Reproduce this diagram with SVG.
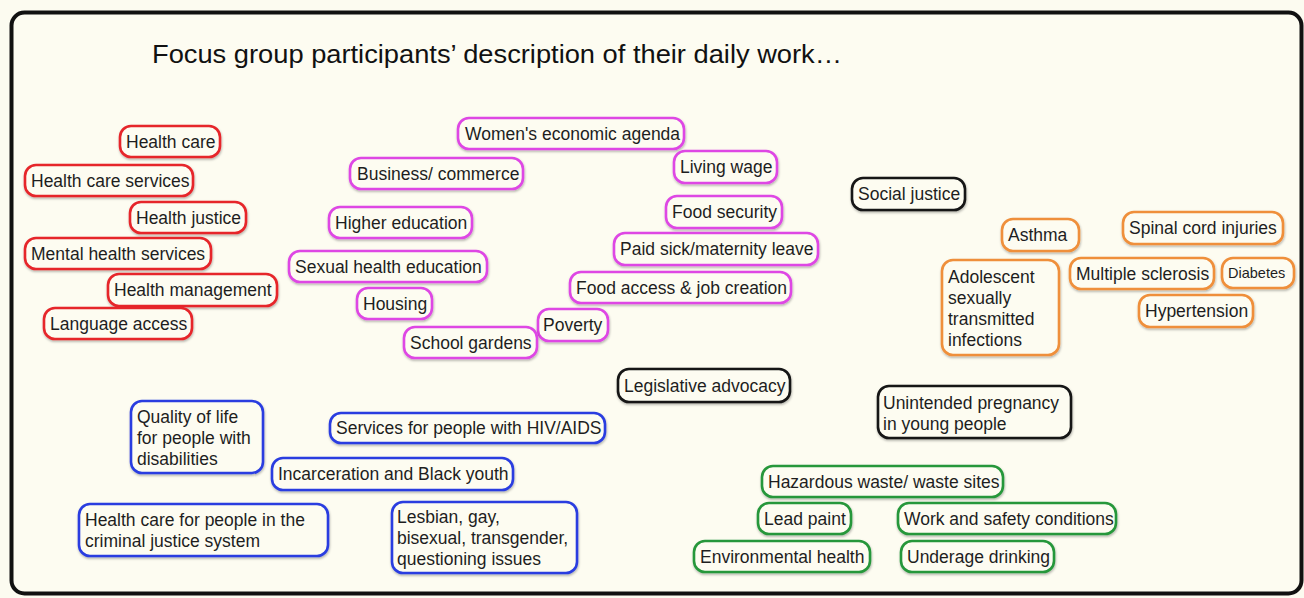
<svg xmlns="http://www.w3.org/2000/svg" width="1304" height="598" viewBox="0 0 1304 598">
<defs>
<filter id="sh" x="-5%" y="-10%" width="110%" height="130%">
<feDropShadow dx="0.5" dy="1.5" stdDeviation="0.8" flood-color="#000" flood-opacity="0.3"/>
</filter>
<style>
.t{font-family:"Liberation Sans",Arial,Helvetica,sans-serif;font-size:17.5px;fill:#1e1e1e}
.b{fill:#fdfcf1;stroke-width:2.6;filter:url(#sh)}
.r .b{stroke:#e6252b}
.m .b{stroke:#de47e4}
.k .b{stroke:#141414}
.o .b{stroke:#ef8f3a}
.u .b{stroke:#2b3ee0}
.g .b{stroke:#27973a}
</style>
</defs>
<rect x="0" y="0" width="1304" height="598" fill="#fcfbf0"/>
<rect x="11.5" y="12.5" width="1290" height="581" rx="13" fill="#fdfcf1" stroke="#111" stroke-width="4"/>
<text x="152" y="63" style="font-family:'Liberation Sans',Arial,sans-serif;font-size:26px;fill:#111" textLength="690" lengthAdjust="spacingAndGlyphs">Focus group participants’ description of their daily work…</text>
<g id="connectors"></g>

<g class="r">
<g id="n-health-care"><rect class="b" x="120" y="126" width="100" height="31" rx="11"/><text class="t" x="126" y="148">Health care</text></g>
<g id="n-health-care-services"><rect class="b" x="25" y="165" width="168" height="31" rx="11"/><text class="t" x="31" y="187">Health care services</text></g>
<g id="n-health-justice"><rect class="b" x="130" y="202" width="116" height="31" rx="11"/><text class="t" x="136" y="224">Health justice</text></g>
<g id="n-mental-health"><rect class="b" x="25" y="238" width="186" height="31" rx="11"/><text class="t" x="31" y="260">Mental health services</text></g>
<g id="n-health-management"><rect class="b" x="108" y="274" width="169" height="32" rx="11"/><text class="t" x="114" y="296">Health management</text></g>
<g id="n-language-access"><rect class="b" x="44" y="308" width="148" height="31" rx="11"/><text class="t" x="50" y="330">Language access</text></g>
</g>

<g class="m">
<g id="n-womens-agenda"><rect class="b" x="458" y="118" width="226" height="31" rx="11"/><text class="t" x="465" y="140">Women's economic agenda</text></g>
<g id="n-business"><rect class="b" x="350" y="158" width="173" height="31" rx="11"/><text class="t" x="357" y="180">Business/ commerce</text></g>
<g id="n-living-wage"><rect class="b" x="674" y="151" width="103" height="32" rx="11"/><text class="t" x="680" y="173">Living wage</text></g>
<g id="n-higher-education"><rect class="b" x="329" y="207" width="143" height="31" rx="11"/><text class="t" x="335" y="229">Higher education</text></g>
<g id="n-food-security"><rect class="b" x="666" y="196" width="116" height="32" rx="11"/><text class="t" x="672" y="218">Food security</text></g>
<g id="n-paid-sick"><rect class="b" x="614" y="233" width="204" height="32" rx="11"/><text class="t" x="620" y="255">Paid sick/maternity leave</text></g>
<g id="n-sexual-health-ed"><rect class="b" x="289" y="251" width="198" height="31" rx="11"/><text class="t" x="295" y="273">Sexual health education</text></g>
<g id="n-food-access"><rect class="b" x="570" y="272" width="221" height="31" rx="11"/><text class="t" x="576" y="294">Food access &amp; job creation</text></g>
<g id="n-housing"><rect class="b" x="357" y="288" width="75" height="31" rx="11"/><text class="t" x="363" y="310">Housing</text></g>
<g id="n-poverty"><rect class="b" x="538" y="309" width="70" height="32" rx="11"/><text class="t" x="543" y="331">Poverty</text></g>
<g id="n-school-gardens"><rect class="b" x="404" y="327" width="133" height="31" rx="11"/><text class="t" x="410" y="349">School gardens</text></g>
</g>

<g class="k">
<g id="n-social-justice"><rect class="b" x="852" y="178" width="113" height="32" rx="11"/><text class="t" x="858" y="200">Social justice</text></g>
<g id="n-legislative"><rect class="b" x="618" y="369" width="172" height="33" rx="11"/><text class="t" x="624" y="392">Legislative advocacy</text></g>
<g id="n-unintended"><rect class="b" x="878" y="386" width="193" height="52" rx="11"/><text class="t" x="883" y="409">Unintended pregnancy</text><text class="t" x="883" y="430">in young people</text></g>
</g>

<g class="o">
<g id="n-asthma"><rect class="b" x="1002" y="219" width="77" height="32" rx="11"/><text class="t" x="1008" y="241">Asthma</text></g>
<g id="n-spinal"><rect class="b" x="1123" y="212" width="160" height="32" rx="11"/><text class="t" x="1129" y="234">Spinal cord injuries</text></g>
<g id="n-adolescent"><rect class="b" x="942" y="260" width="117" height="95" rx="11"/><text class="t" x="948" y="283">Adolescent</text><text class="t" x="948" y="304">sexually</text><text class="t" x="948" y="325">transmitted</text><text class="t" x="948" y="346">infections</text></g>
<g id="n-ms"><rect class="b" x="1070" y="258" width="144" height="31" rx="11"/><text class="t" x="1076" y="280">Multiple sclerosis</text></g>
<g id="n-diabetes"><rect class="b" x="1222" y="258" width="72" height="30" rx="11"/><text class="t" x="1228" y="278" style="font-size:14.5px">Diabetes</text></g>
<g id="n-hypertension"><rect class="b" x="1139" y="295" width="114" height="32" rx="11"/><text class="t" x="1145" y="317">Hypertension</text></g>
</g>

<g class="u">
<g id="n-quality-of-life"><rect class="b" x="131" y="401" width="132" height="72" rx="11"/><text class="t" x="137" y="423">Quality of life</text><text class="t" x="137" y="444">for people with</text><text class="t" x="137" y="465">disabilities</text></g>
<g id="n-hiv"><rect class="b" x="330" y="413" width="275" height="30" rx="11"/><text class="t" x="336" y="434">Services for people with HIV/AIDS</text></g>
<g id="n-incarceration"><rect class="b" x="272" y="458" width="241" height="32" rx="11"/><text class="t" x="278" y="480">Incarceration and Black youth</text></g>
<g id="n-criminal-justice"><rect class="b" x="79" y="504" width="249" height="52" rx="11"/><text class="t" x="85" y="526">Health care for people in the</text><text class="t" x="85" y="547">criminal justice system</text></g>
<g id="n-lgbtq"><rect class="b" x="392" y="502" width="185" height="71" rx="11"/><text class="t" x="397" y="523">Lesbian, gay,</text><text class="t" x="397" y="544">bisexual, transgender,</text><text class="t" x="397" y="565">questioning issues</text></g>
</g>

<g class="g">
<g id="n-hazardous"><rect class="b" x="762" y="466" width="241" height="31" rx="11"/><text class="t" x="768" y="488">Hazardous waste/ waste sites</text></g>
<g id="n-lead-paint"><rect class="b" x="758" y="503" width="93" height="31" rx="11"/><text class="t" x="764" y="525">Lead paint</text></g>
<g id="n-work-safety"><rect class="b" x="898" y="503" width="218" height="31" rx="11"/><text class="t" x="904" y="525">Work and safety conditions</text></g>
<g id="n-env-health"><rect class="b" x="694" y="541" width="176" height="31" rx="11"/><text class="t" x="700" y="563">Environmental health</text></g>
<g id="n-underage"><rect class="b" x="901" y="541" width="153" height="31" rx="11"/><text class="t" x="907" y="563">Underage drinking</text></g>
</g>
</svg>
